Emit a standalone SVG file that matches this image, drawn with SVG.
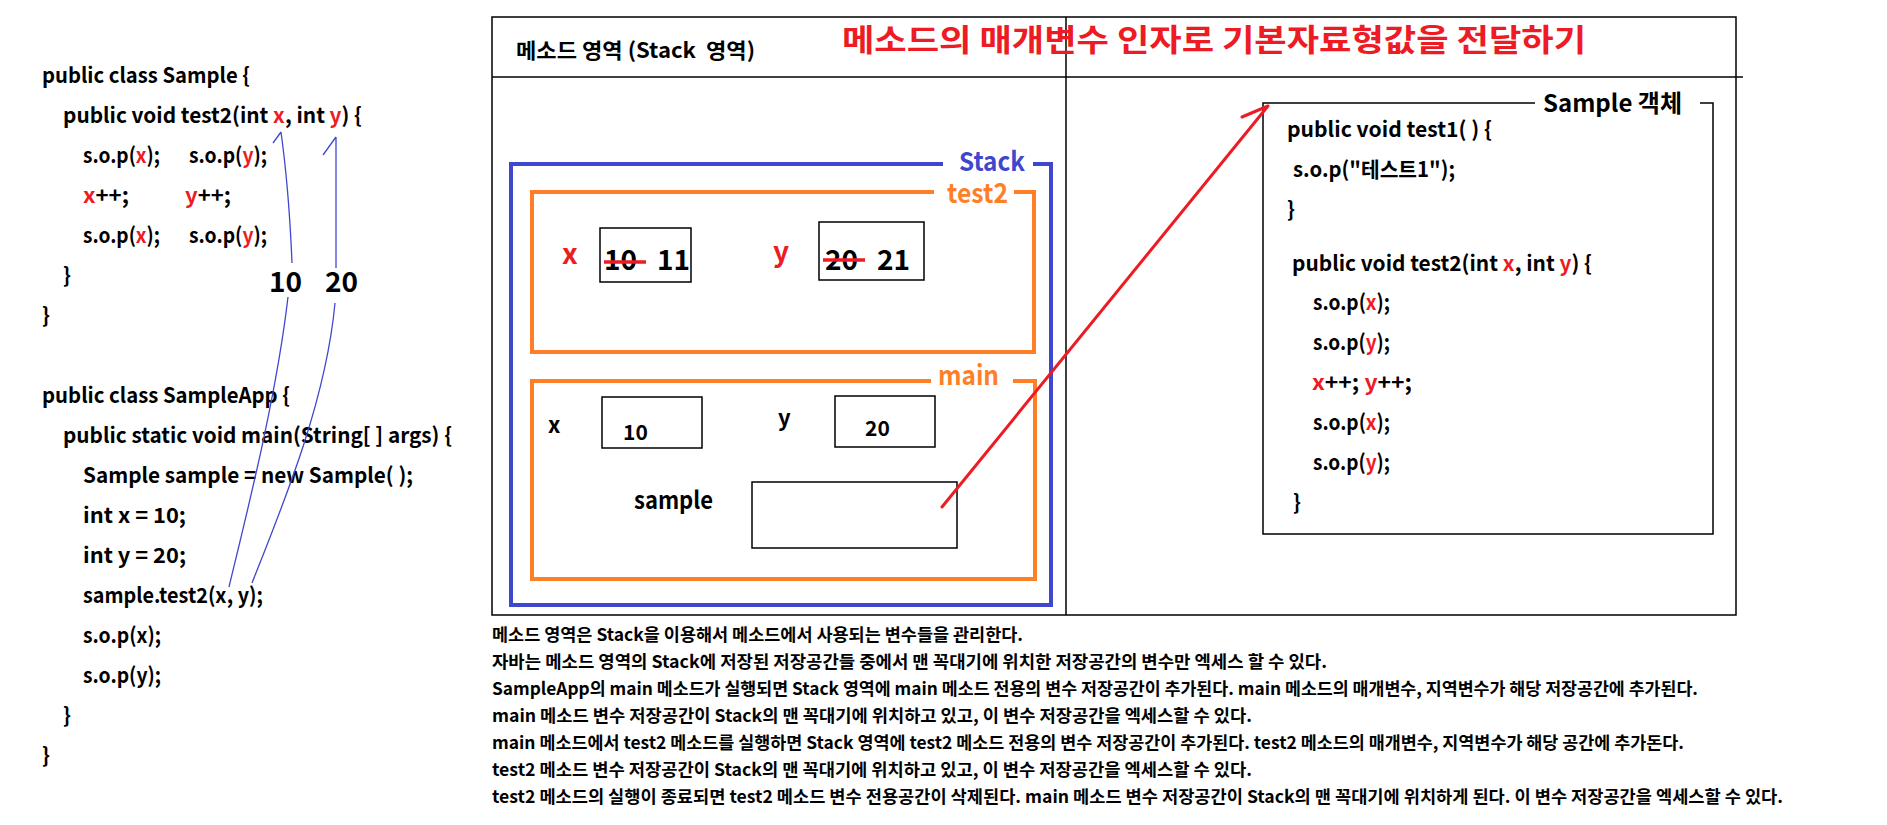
<svg xmlns="http://www.w3.org/2000/svg" width="1887" height="825" viewBox="0 0 1887 825">
<style>
text{font-family:"Noto Sans CJK KR","Noto Sans",sans-serif;font-weight:bold;fill:#000}
.code{font-size:21px}
.r{fill:#ED1C24}
.note{font-size:17.5px}
.ln{stroke:#000;stroke-width:1.5;fill:none}
.bl{stroke:#3F48CC;stroke-width:4;fill:none}
.or{stroke:#FF7F27;stroke-width:4;fill:none}
.cur{stroke:#3F48CC;stroke-width:1.3;fill:none}
.ar{stroke:#ED1C24;stroke-width:3;fill:none;stroke-linecap:round}
.strike{stroke:#ED1C24;stroke-width:3.5}
</style>
<rect width="1887" height="825" fill="#fff"/>

<g id="code-sample" class="code">
<text x="42" y="83" textLength="208" lengthAdjust="spacingAndGlyphs">public class Sample {</text>
<text x="63" y="123" textLength="299" lengthAdjust="spacingAndGlyphs">public void test2(int <tspan class="r">x</tspan>, int <tspan class="r">y</tspan>) {</text>
<text x="83" y="163" textLength="77" lengthAdjust="spacingAndGlyphs">s.o.p(<tspan class="r">x</tspan>);</text>
<text x="189" y="163" textLength="78" lengthAdjust="spacingAndGlyphs">s.o.p(<tspan class="r">y</tspan>);</text>
<text x="83" y="203" textLength="46" lengthAdjust="spacingAndGlyphs"><tspan class="r">x</tspan>++;</text>
<text x="185" y="203" textLength="46" lengthAdjust="spacingAndGlyphs"><tspan class="r">y</tspan>++;</text>
<text x="83" y="243" textLength="77" lengthAdjust="spacingAndGlyphs">s.o.p(<tspan class="r">x</tspan>);</text>
<text x="189" y="243" textLength="78" lengthAdjust="spacingAndGlyphs">s.o.p(<tspan class="r">y</tspan>);</text>
<text x="63" y="283">}</text>
<text x="42" y="323">}</text>
</g>

<g id="code-sampleapp" class="code">
<text x="42" y="403" textLength="248" lengthAdjust="spacingAndGlyphs">public class SampleApp {</text>
<text x="63" y="443" textLength="389" lengthAdjust="spacingAndGlyphs">public static void main(String[ ] args) {</text>
<text x="83" y="483" textLength="330" lengthAdjust="spacingAndGlyphs">Sample sample = new Sample( );</text>
<text x="83" y="523" textLength="103" lengthAdjust="spacingAndGlyphs">int x = 10;</text>
<text x="83" y="563" textLength="103" lengthAdjust="spacingAndGlyphs">int y = 20;</text>
<text x="83" y="603" textLength="180" lengthAdjust="spacingAndGlyphs">sample.test2(x, y);</text>
<text x="83" y="643" textLength="78" lengthAdjust="spacingAndGlyphs">s.o.p(x);</text>
<text x="83" y="683" textLength="78" lengthAdjust="spacingAndGlyphs">s.o.p(y);</text>
<text x="63" y="723">}</text>
<text x="42" y="763">}</text>
</g>

<g id="arg-labels">
<text x="269" y="292" font-size="28">10</text>
<text x="325" y="292" font-size="28">20</text>
</g>

<g id="method-area">
<rect x="492" y="17" width="1244" height="598" class="ln"/>
<line x1="492" y1="77" x2="1743" y2="77" class="ln"/>
<line x1="1066" y1="17" x2="1066" y2="615" class="ln"/>
<text x="516" y="58" font-size="21" textLength="239" lengthAdjust="spacingAndGlyphs">메소드 영역 (Stack&#160; 영역)</text>
<text x="842" y="51" font-size="31" class="r" textLength="744" lengthAdjust="spacingAndGlyphs">메소드의 매개변수 인자로 기본자료형값을 전달하기</text>
</g>

<g id="stack">
<path d="M943,164 H511 V605 H1051 V164 H1033" class="bl"/>
<text x="959" y="171" font-size="26" style="fill:#3F48CC" textLength="66" lengthAdjust="spacingAndGlyphs">Stack</text>
</g>

<g id="test2-frame">
<path d="M934,192 H532 V352 H1034 V192 H1014" class="or"/>
<text x="947" y="203" font-size="27" style="fill:#FF7F27" textLength="61" lengthAdjust="spacingAndGlyphs">test2</text>
<text x="562" y="264" font-size="28" class="r">x</text>
<rect x="600" y="228" width="91" height="54" class="ln"/>
<text x="604" y="270" font-size="28">10</text>
<text x="657" y="270" font-size="28">11</text>
<line x1="604" y1="262" x2="646" y2="262" class="strike"/>
<text x="773" y="262" font-size="28" class="r">y</text>
<rect x="819" y="222" width="105" height="58" class="ln"/>
<text x="825" y="270" font-size="28">20</text>
<text x="877" y="270" font-size="28">21</text>
<line x1="823" y1="260" x2="865" y2="260" class="strike"/>
</g>

<g id="main-frame">
<path d="M931,381 H532 V579 H1035 V381 H1013" class="or"/>
<text x="938" y="385" font-size="27" style="fill:#FF7F27" textLength="61" lengthAdjust="spacingAndGlyphs">main</text>
<text x="548" y="433" font-size="22">x</text>
<rect x="602" y="397" width="100" height="51" class="ln"/>
<text x="623" y="440" font-size="21">10</text>
<text x="778" y="426" font-size="22">y</text>
<rect x="835" y="396" width="100" height="51" class="ln"/>
<text x="865" y="436" font-size="21">20</text>
<text x="634" y="509" font-size="24" textLength="79" lengthAdjust="spacingAndGlyphs">sample</text>
<rect x="752" y="482" width="205" height="66" class="ln"/>
</g>

<g id="sample-object">
<path d="M1535,103 H1263 V534 H1713 V103 H1700" class="ln"/>
<text x="1543" y="112" font-size="24" textLength="139" lengthAdjust="spacingAndGlyphs">Sample 객체</text>
<g class="code">
<text x="1287" y="137" textLength="205" lengthAdjust="spacingAndGlyphs">public void test1( ) {</text>
<text x="1293" y="177" textLength="162" lengthAdjust="spacingAndGlyphs">s.o.p("테스트1");</text>
<text x="1287" y="217">}</text>
<text x="1292" y="271" textLength="300" lengthAdjust="spacingAndGlyphs">public void test2(int <tspan class="r">x</tspan>, int <tspan class="r">y</tspan>) {</text>
<text x="1313" y="310" textLength="77" lengthAdjust="spacingAndGlyphs">s.o.p(<tspan class="r">x</tspan>);</text>
<text x="1313" y="350" textLength="77" lengthAdjust="spacingAndGlyphs">s.o.p(<tspan class="r">y</tspan>);</text>
<text x="1312" y="390" textLength="100" lengthAdjust="spacingAndGlyphs"><tspan class="r">x</tspan>++; <tspan class="r">y</tspan>++;</text>
<text x="1313" y="430" textLength="77" lengthAdjust="spacingAndGlyphs">s.o.p(<tspan class="r">x</tspan>);</text>
<text x="1313" y="470" textLength="77" lengthAdjust="spacingAndGlyphs">s.o.p(<tspan class="r">y</tspan>);</text>
<text x="1293" y="510">}</text>
</g>
</g>

<g id="connectors">
<path d="M229,587 C245,520 276,400 288,297" class="cur"/>
<path d="M292,263 Q289,190 281,132 M273,143 L281,132" class="cur"/>
<path d="M252,583 C285,500 326,400 335,303" class="cur"/>
<path d="M336,268 L336,137 M323,155 L336,137" class="cur"/>
<path d="M942,507 L1268,106 M1242,117 L1268,106" class="ar"/>
</g>

<g id="notes" class="note">
<text x="492" y="641" textLength="531" lengthAdjust="spacingAndGlyphs">메소드 영역은 Stack을 이용해서 메소드에서 사용되는 변수들을 관리한다.</text>
<text x="492" y="668" textLength="835" lengthAdjust="spacingAndGlyphs">자바는 메소드 영역의 Stack에 저장된 저장공간들 중에서 맨 꼭대기에 위치한 저장공간의 변수만 엑세스 할 수 있다.</text>
<text x="492" y="695" textLength="1206" lengthAdjust="spacingAndGlyphs">SampleApp의 main 메소드가 실행되면 Stack 영역에 main 메소드 전용의 변수 저장공간이 추가된다. main 메소드의 매개변수, 지역변수가 해당 저장공간에 추가된다.</text>
<text x="492" y="722" textLength="760" lengthAdjust="spacingAndGlyphs">main 메소드 변수 저장공간이 Stack의 맨 꼭대기에 위치하고 있고, 이 변수 저장공간을 엑세스할 수 있다.</text>
<text x="492" y="749" textLength="1192" lengthAdjust="spacingAndGlyphs">main 메소드에서 test2 메소드를 실행하면 Stack 영역에 test2 메소드 전용의 변수 저장공간이 추가된다. test2 메소드의 매개변수, 지역변수가 해당 공간에 추가돈다.</text>
<text x="492" y="776" textLength="760" lengthAdjust="spacingAndGlyphs">test2 메소드 변수 저장공간이 Stack의 맨 꼭대기에 위치하고 있고, 이 변수 저장공간을 엑세스할 수 있다.</text>
<text x="492" y="803" textLength="1291" lengthAdjust="spacingAndGlyphs">test2 메소드의 실행이 종료되면 test2 메소드 변수 전용공간이 삭제된다. main 메소드 변수 저장공간이 Stack의 맨 꼭대기에 위치하게 된다. 이 변수 저장공간을 엑세스할 수 있다.</text>
</g>
</svg>
